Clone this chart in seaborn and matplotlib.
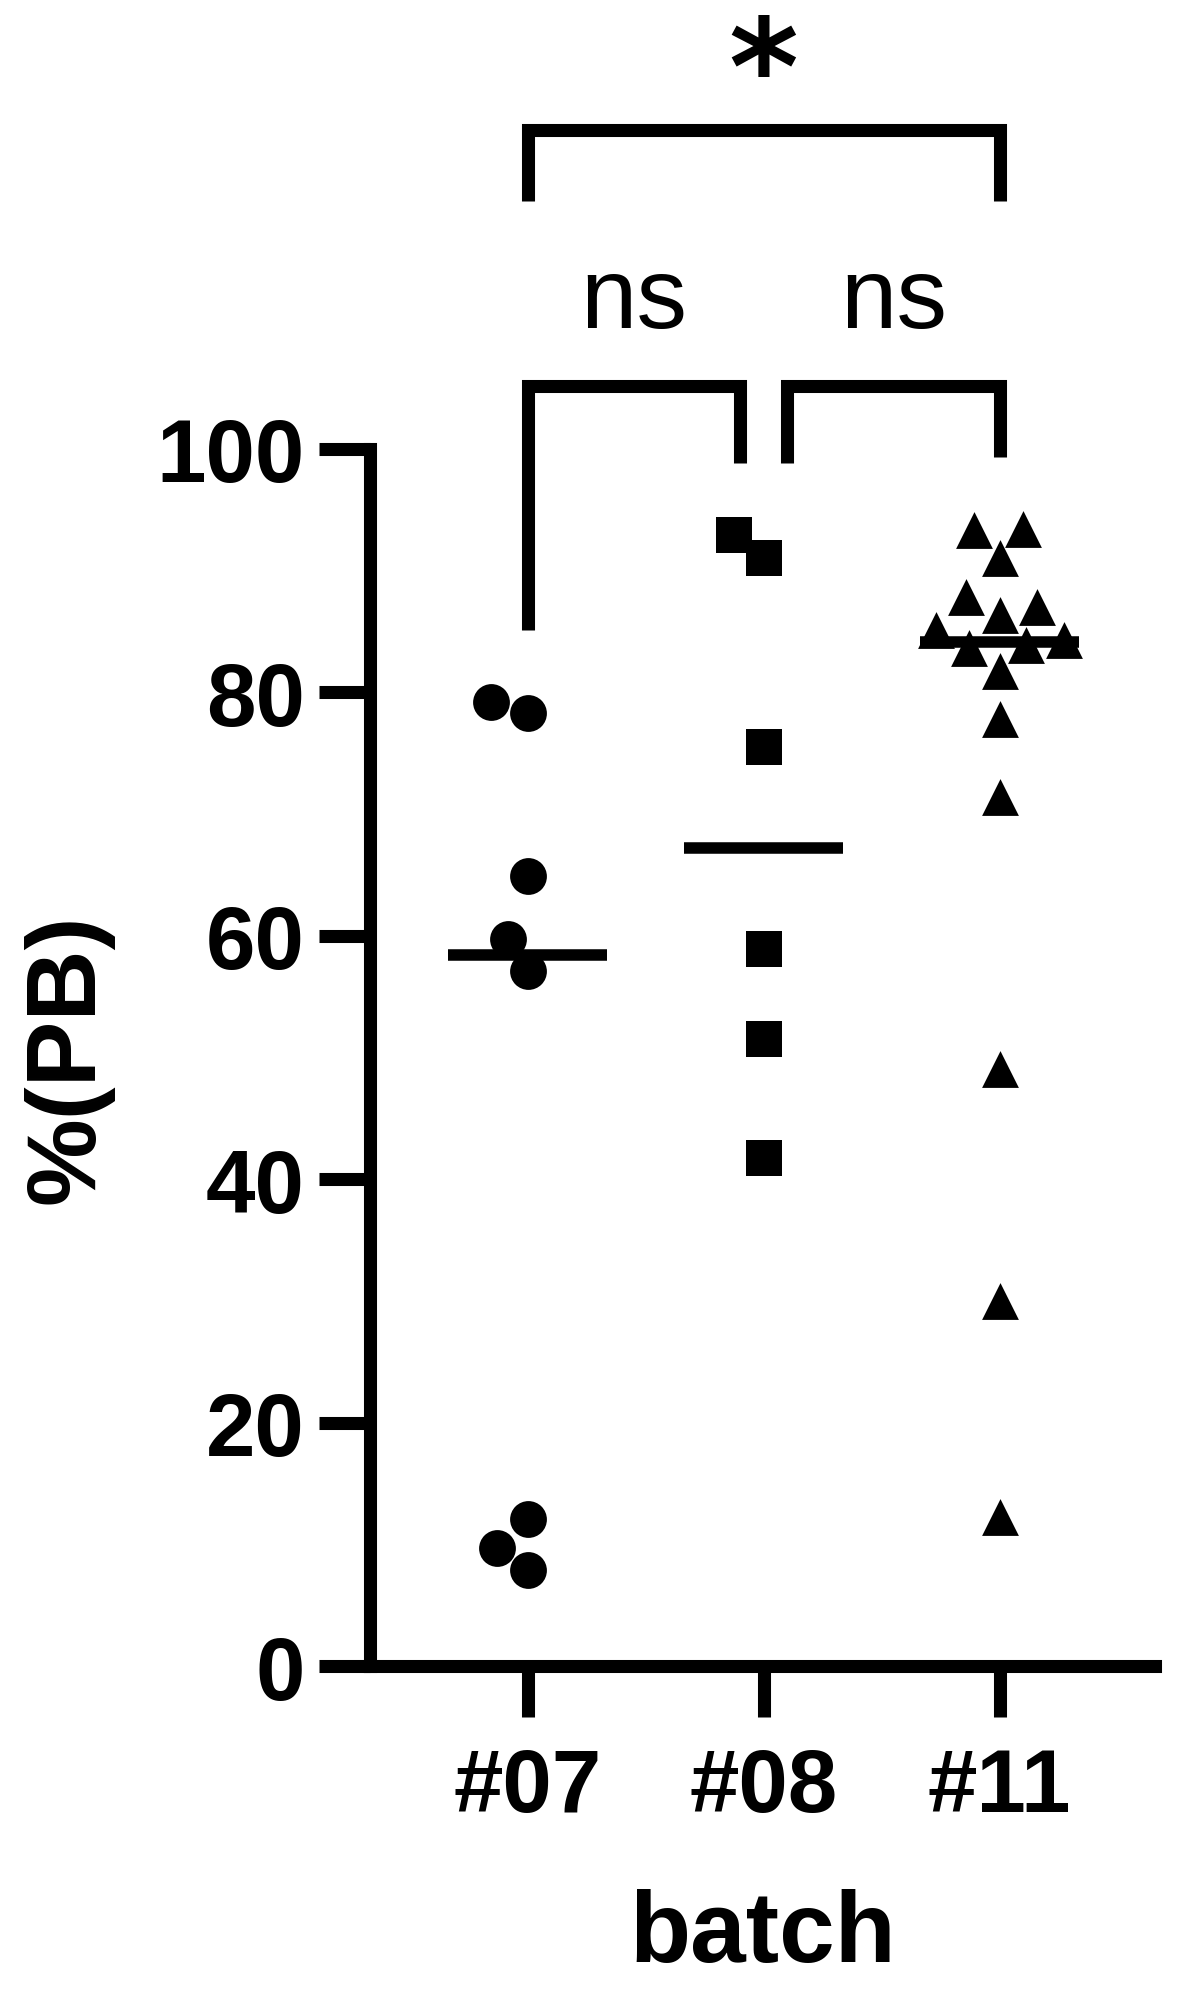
import numpy as np
import pandas as pd
import seaborn as sns
import matplotlib.pyplot as plt

# Values: % of PB for each batch
batches = ['#07', '#08', '#11']
pb_07 = [78.3, 79.2, 64.9, 59.7, 57.1, 12.1, 7.9, 9.7]
pb_08 = [91.0, 92.9, 75.5, 58.9, 51.5, 41.7]
pb_11 = [93.4, 93.3, 91.0, 86.3, 87.0, 87.8, 85.1, 84.3,
         83.9, 83.6, 81.7, 77.8, 71.4, 49.0, 30.0, 12.2]
markers = ['o', 's', '^']

# Significance comparisons (group a, group b, label)
comparisons = [('#07', '#08', 'ns'), ('#08', '#11', 'ns'), ('#07', '#11', '*')]

df = pd.DataFrame({
    'batch': ['#07'] * len(pb_07) + ['#08'] * len(pb_08) + ['#11'] * len(pb_11),
    'value': pb_07 + pb_08 + pb_11,
})

sns.set_style('ticks')
plt.rcParams['font.family'] = ['Liberation Sans', 'DejaVu Sans']
plt.rcParams['font.weight'] = 'bold'
for k in ['text.color', 'axes.labelcolor', 'axes.edgecolor', 'xtick.color', 'ytick.color']:
    plt.rcParams[k] = 'black'

fig = plt.figure(figsize=(11.8, 19.9), dpi=100)
ax = fig.add_axes([0.31398, 0.1623, 0.66525, 0.6118])

# Points, one swarm per batch so each gets its own marker
for b, m in zip(batches, markers):
    sns.swarmplot(data=df[df['batch'] == b], x='batch', y='value', order=batches,
                  marker=m, color='black', size=26.5, linewidth=0,
                  ax=ax, zorder=3, clip_on=False)

# Median lines only
sns.boxplot(data=df, x='batch', y='value', order=batches, width=0.675,
            showbox=False, showcaps=False, showfliers=False,
            whiskerprops={'visible': False},
            medianprops={'color': 'black', 'linewidth': 8.3, 'solid_capstyle': 'butt'},
            ax=ax, zorder=4)

ax.set_xlim(-0.666, 2.661)
ax.set_ylim(0, 100)
ax.set_yticks(range(0, 101, 20))
sns.despine(ax=ax)
for s in ['left', 'bottom']:
    ax.spines[s].set_linewidth(9.4)
    ax.spines[s].set_capstyle('projecting')

ax.tick_params(width=9.4, length=36.5, color='black', labelcolor='black', labelsize=64)
ax.tick_params(axis='y', pad=10.8)
ax.tick_params(axis='x', pad=21)
ax.set_ylabel('%(PB)', fontsize=71, fontweight='bold', labelpad=31)
ax.set_xlabel('batch', fontsize=72, fontweight='bold', labelpad=42)

# Significance brackets
pos = {b: i for i, b in enumerate(batches)}
tops = df.groupby('batch')['value'].max()
leg_gap = 5.9
for a, b, label in comparisons:
    x0, x1 = pos[a], pos[b]
    if x1 - x0 == 1:
        # neighbouring pairs sit side by side, shortened at the shared group
        if x0 == 1:
            x0 += 0.1
        else:
            x1 -= 0.1
        y = 105.1
        y0, y1 = tops[a] + leg_gap, tops[b] + leg_gap
        ax.text((x0 + x1) / 2, 110.0, label, ha='center', va='baseline',
                fontsize=73, fontweight='normal', clip_on=False)
    else:
        y = 126.2
        y0 = y1 = 120.3
        ax.text((x0 + x1) / 2, 127.6, label, ha='center', va='baseline',
                fontsize=96, fontweight='bold', family='DejaVu Sans', clip_on=False)
    ax.plot([x0, x0, x1, x1], [y0, y, y, y1], color='black', lw=9.4,
            clip_on=False, solid_joinstyle='miter', solid_capstyle='butt')

fig.savefig('out.png', dpi=100)
